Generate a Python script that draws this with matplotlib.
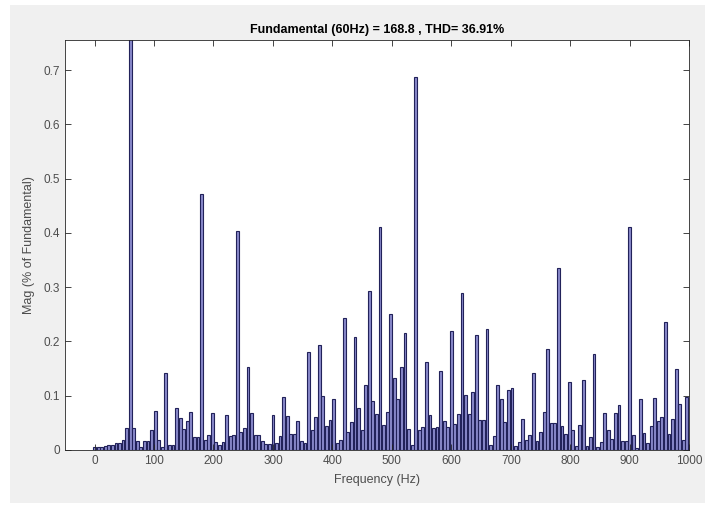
import numpy as np
import matplotlib
matplotlib.use('Agg')
from matplotlib import pyplot as plt
from matplotlib.patches import Rectangle

# FFT bins, 6 Hz resolution (10 cycles of 60 Hz)
bin_step = 6
mag = [0.006, 0.005, 0.006, 0.008, 0.009, 0.010, 0.013, 0.012, 0.019, 0.040,
       1.000, 0.040, 0.016, 0.006, 0.016, 0.017, 0.036, 0.072, 0.019, 0.006,
       0.141, 0.010, 0.010, 0.078, 0.059, 0.038, 0.053, 0.070, 0.023, 0.023,
       0.472, 0.018, 0.027, 0.068, 0.014, 0.010, 0.014, 0.064, 0.025, 0.027,
       0.404, 0.034, 0.040, 0.152, 0.068, 0.027, 0.028, 0.017, 0.011, 0.011,
       0.064, 0.012, 0.025, 0.098, 0.062, 0.030, 0.030, 0.054, 0.017, 0.012,
       0.181, 0.036, 0.061, 0.193, 0.100, 0.045, 0.056, 0.093, 0.012, 0.019,
       0.244, 0.034, 0.051, 0.208, 0.078, 0.037, 0.120, 0.293, 0.091, 0.067,
       0.410, 0.046, 0.070, 0.250, 0.132, 0.094, 0.152, 0.216, 0.039, 0.009,
       0.688, 0.037, 0.043, 0.162, 0.065, 0.041, 0.043, 0.145, 0.054, 0.043,
       0.220, 0.048, 0.066, 0.289, 0.102, 0.066, 0.106, 0.211, 0.056, 0.056,
       0.223, 0.009, 0.025, 0.120, 0.094, 0.052, 0.111, 0.114, 0.007, 0.014,
       0.057, 0.018, 0.028, 0.142, 0.017, 0.033, 0.070, 0.186, 0.049, 0.049,
       0.336, 0.045, 0.030, 0.126, 0.036, 0.007, 0.046, 0.128, 0.008, 0.023,
       0.176, 0.006, 0.015, 0.068, 0.036, 0.021, 0.069, 0.083, 0.017, 0.017,
       0.410, 0.028, 0.004, 0.094, 0.031, 0.012, 0.045, 0.096, 0.053, 0.060,
       0.236, 0.030, 0.057, 0.149, 0.085, 0.018, 0.098]
freq = np.arange(len(mag)) * bin_step

title = 'Fundamental (60Hz) = 168.8 , THD= 36.91%'
xticks = np.arange(0, 1001, 100)
yticks = np.arange(0, 0.71, 0.1)

plt.rcParams['font.family'] = ['Liberation Sans', 'DejaVu Sans']

fig = plt.figure(figsize=(7.12, 5.09), dpi=100, facecolor='white')
# grey window area of the screenshot
fig.patches.append(Rectangle((0.014, 0.012), 0.976, 0.978, transform=fig.transFigure,
                             facecolor='#f0f0f0', edgecolor='none', zorder=-10))

ax = fig.add_axes([0.091, 0.116, 0.877, 0.805])
ax.bar(freq, mag, width=bin_step * 0.8, color='#8a8acc', edgecolor='#22225a',
       linewidth=0.8)

ax.set_xlim(-50, 1000)
ax.set_ylim(0, 0.755)
ax.set_xticks(xticks)
ax.set_yticks(yticks)
ax.set_yticklabels(['0'] + ['%.1f' % v for v in yticks[1:]])
ax.tick_params(direction='in', length=4, width=0.6, colors='#262626',
               labelsize=8.5, top=True, right=True, labelcolor='#4d4d4d')
for s in ax.spines.values():
    s.set_color('#262626')
    s.set_linewidth(0.6)

ax.set_title(title, fontsize=9, fontweight='bold', pad=5)
ax.set_xlabel('Frequency (Hz)', fontsize=9, color='#4d4d4d', labelpad=5)
ax.set_ylabel('Mag (% of Fundamental)', fontsize=9, color='#4d4d4d', labelpad=6)

plt.savefig('out.png', dpi=100, facecolor=fig.get_facecolor())
